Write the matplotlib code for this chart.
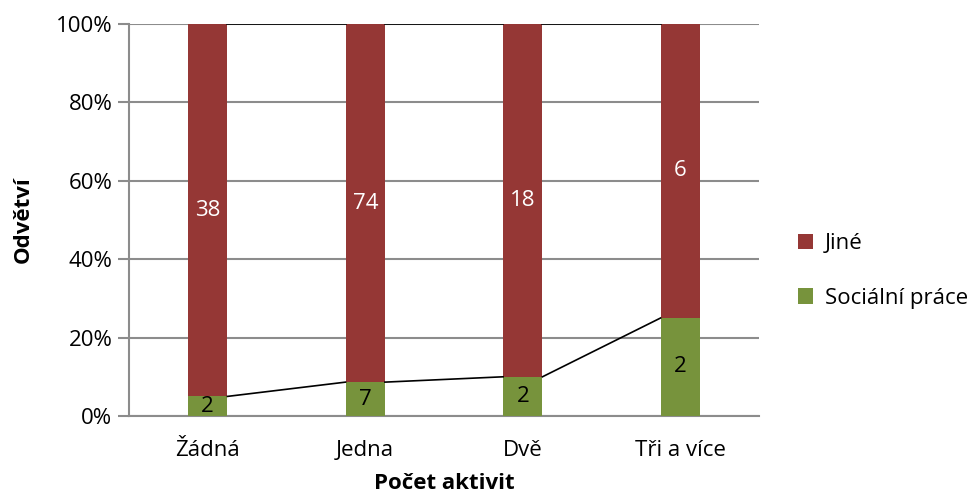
import numpy as np
import matplotlib.pyplot as plt
from matplotlib.ticker import PercentFormatter

categories = ['Žádná', 'Jedna', 'Dvě', 'Tři a více']
socialni = [2, 7, 2, 2]
jine = [38, 74, 18, 6]

plt.rcParams['font.family'] = ['Open Sans', 'DejaVu Sans']

soc = np.array(socialni, dtype=float)
jin = np.array(jine, dtype=float)
total = soc + jin
soc_pct = soc / total * 100
jin_pct = jin / total * 100

green = '#77933C'
red = '#953735'
grid_c = '#8C8C8C'
fs = 16

fig = plt.figure(figsize=(9.75, 5), dpi=100)
ax = fig.add_axes([129 / 975, 84 / 500, 630 / 975, 392 / 500])

x = np.arange(len(categories))
w = 0.25
b1 = ax.bar(x, soc_pct, w, color=green, label='Sociální práce', zorder=3)
b2 = ax.bar(x, jin_pct, w, bottom=soc_pct, color=red, label='Jiné', zorder=3)

# series lines between bars (Excel style)
for i in range(len(x) - 1):
    ax.plot([x[i] + w / 2, x[i + 1] - w / 2], [soc_pct[i], soc_pct[i + 1]],
            color='black', lw=1.2, zorder=4)
    ax.plot([x[i] + w / 2, x[i + 1] - w / 2], [100, 100],
            color='black', lw=1.2, zorder=4)

for i in range(len(x)):
    ax.text(x[i], soc_pct[i] / 2, str(socialni[i]), ha='center', va='center',
            fontsize=fs, color='black', zorder=5)
    ax.text(x[i], soc_pct[i] + jin_pct[i] / 2, str(jine[i]), ha='center',
            va='center', fontsize=fs, color='white', zorder=5)

ax.set_xlim(-0.5, len(categories) - 0.5)
ax.set_ylim(0, 100)
ax.set_yticks(np.arange(0, 101, 20))
ax.yaxis.set_major_formatter(PercentFormatter(decimals=0))
ax.set_xticks(x)
ax.set_xticklabels(categories)
ax.tick_params(axis='x', length=0, labelsize=fs, pad=17)
ax.tick_params(axis='y', length=8, width=1.5, color=grid_c, labelsize=fs, pad=4)
ax.yaxis.grid(True, color=grid_c, lw=1.5, zorder=0)

for s in ['top', 'right']:
    ax.spines[s].set_visible(False)
for s in ['left', 'bottom']:
    ax.spines[s].set_color(grid_c)
    ax.spines[s].set_linewidth(1.5)

ax.set_ylabel('Odvětví', fontsize=fs, fontweight='bold', labelpad=16)
ax.set_xlabel('Počet aktivit', fontsize=fs, fontweight='bold', labelpad=9)

handles = [b2, b1]
ax.legend(handles, ['Jiné', 'Sociální práce'], loc='center left',
          bbox_to_anchor=(1.03, 0.37), frameon=False, fontsize=fs,
          handlelength=0.7, handleheight=0.7, handletextpad=0.5,
          labelspacing=1.5)

fig.savefig('out.png', dpi=100)
